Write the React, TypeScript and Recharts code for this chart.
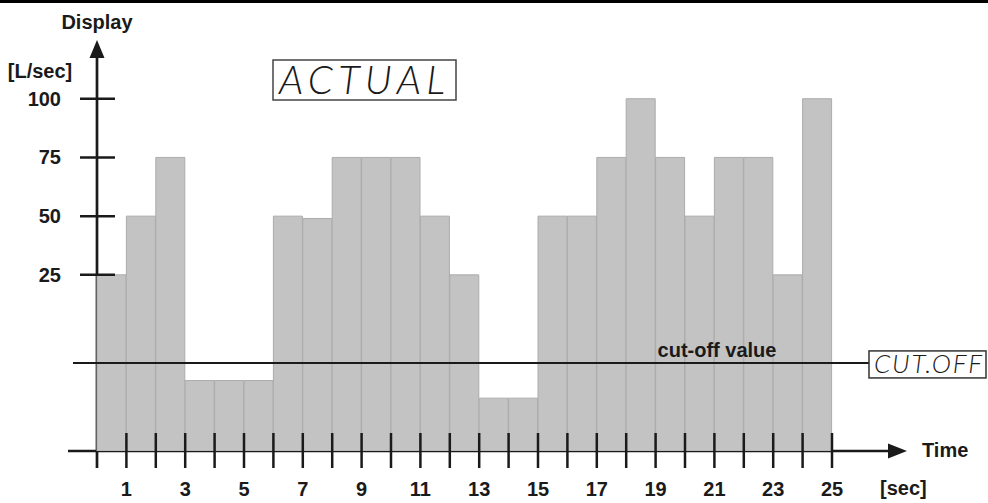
import React from "react";
import { BarChart, Bar, XAxis, YAxis, ReferenceLine, Customized } from "recharts";

// ---- data ----
const TIME_SLOTS = [1, 2, 3, 4, 5, 6, 7, 8, 9, 10, 11, 12, 13, 14, 15, 16, 17, 18, 19, 20, 21, 22, 23, 24, 25];
const FLOW_VALUES = [25, 50, 75, -20, -20, -20, 50, 49, 75, 75, 75, 50, 25, -27.5, -27.5, 50, 50, 75, 100, 75, 50, 75, 75, 25, 100];
const Y_TICKS = [25, 50, 75, 100];
const X_LABELED = [1, 3, 5, 7, 9, 11, 13, 15, 17, 19, 21, 23, 25];
const Y_DOMAIN: [number, number] = [-50, 125];
const CUTOFF_VALUE = -12.5;
const TITLE = "ACTUAL";
const CUTOFF_TAG = "CUT.OFF";
const CUTOFF_LABEL = "cut-off value";

const data = TIME_SLOTS.map((t, i) => ({ t, v: FLOW_VALUES[i] }));

// ---- layout ----
const W = 988;
const H = 503;
const M = { top: 40, right: 156, bottom: 22, left: 37 };
const YW = 60;
const XH = 30;
const PL = M.left + YW; // 97
const PB = H - M.bottom - XH; // 451
const BAND = (W - PL - M.right) / TIME_SLOTS.length;
const FONT = "'Liberation Sans', Arial, sans-serif";
const SEG_FONT = "Lato, 'Open Sans', 'DejaVu Sans', sans-serif";
const FS = 20;
const INK = "#1a1a1a";

// tick at the right edge of each one-second slot
const XTick = (props: any) => {
  const { x, payload } = props;
  const tx = x + BAND / 2;
  const lab = X_LABELED.includes(payload.value);
  return (
    <g>
      <line x1={tx} x2={tx} y1={PB - 18} y2={PB + 17} stroke={INK} strokeWidth={2.5} />
      {lab && (
        <text x={tx} y={PB + 38} dy="0.35em" textAnchor="middle" fontFamily={FONT} fontWeight="bold" fontSize={FS} fill={INK}>
          {payload.value}
        </text>
      )}
    </g>
  );
};

const YTick = (props: any) => {
  const { y, payload } = props;
  return (
    <g>
      <line x1={PL - 17} x2={PL + 18} y1={y} y2={y} stroke={INK} strokeWidth={2.5} />
      <text x={PL - 36} y={y} dy="0.35em" textAnchor="end" fontFamily={FONT} fontWeight="bold" fontSize={FS} fill={INK}>
        {payload.value}
      </text>
    </g>
  );
};

const CutoffShape = (props: any) => {
  const { x1, x2, y1 } = props;
  const y = y1;
  return (
    <g>
      <line x1={x1 - 24} x2={x2 + 37} y1={y} y2={y} stroke={INK} strokeWidth={2} />
      <text x={x2 - 115} y={y - 13} dy="0.35em" textAnchor="middle" fontFamily={FONT} fontWeight="bold" fontSize={FS} fill={INK}>
        {CUTOFF_LABEL}
      </text>
      <rect x={x2 + 37} y={y - 12} width={117} height={27} fill="#fff" stroke="#333" strokeWidth={1.5} />
      <text x={x2 + 42} y={y + 10} fontFamily={SEG_FONT} fontWeight={300} fontStyle="italic" fontSize={26}
        fill={INK} textLength={108} lengthAdjust="spacing">
        {CUTOFF_TAG}
      </text>
    </g>
  );
};

const Decor = () => (
  <g>
    <rect x={0} y={0} width={W} height={3} fill="#000" />
    {/* y axis with arrow */}
    <line x1={PL} x2={PL} y1={56} y2={468} stroke={INK} strokeWidth={2.7} />
    <polygon points={`${PL},40 ${PL - 7.5},58 ${PL + 7.5},58`} fill={INK} />
    {/* x axis with arrow */}
    <line x1={68} x2={890} y1={PB} y2={PB} stroke={INK} strokeWidth={2.7} />
    <polygon points={`907,${PB} 888,${PB - 7.5} 888,${PB + 7.5}`} fill={INK} />
    <text x={97} y={29} textAnchor="middle" fontFamily={FONT} fontWeight="bold" fontSize={FS} fill={INK}>Display</text>
    <text x={40} y={78} textAnchor="middle" fontFamily={FONT} fontWeight="bold" fontSize={FS} fill={INK}>[L/sec]</text>
    <text x={922} y={457} fontFamily={FONT} fontWeight="bold" fontSize={FS} fill={INK}>Time</text>
    <text x={880} y={495} fontFamily={FONT} fontWeight="bold" fontSize={FS} fill={INK}>[sec]</text>
    {/* ACTUAL display */}
    <rect x={273} y={60} width={183} height={40} fill="#fff" stroke="#444" strokeWidth={1.5} />
    <text x={279} y={94} fontFamily={SEG_FONT} fontWeight={300} fontStyle="italic" fontSize={40}
      fill={INK} textLength={166} lengthAdjust="spacing">
      {TITLE}
    </text>
  </g>
);

export default function App() {
  return (
    <div style={{ position: "absolute", left: 0, top: 0, width: W, height: H, background: "#fff" }}>
      <BarChart width={W} height={H} data={data} margin={M} barCategoryGap={0} barGap={0}>
        <XAxis xAxisId="cat" dataKey="t" height={XH} axisLine={false} tickLine={false} tick={<XTick />} interval={0} />
        <YAxis domain={Y_DOMAIN} ticks={Y_TICKS} allowDataOverflow width={YW} axisLine={false}
          tickLine={false} tick={<YTick />} interval={0} />
        <Bar xAxisId="cat" dataKey={(d: any) => [Y_DOMAIN[0], d.v]} fill="#c3c3c3" stroke="#acacac" strokeWidth={1}
          isAnimationActive={false} />
        <ReferenceLine xAxisId="cat" y={CUTOFF_VALUE} shape={(p: any) => <CutoffShape {...p} />} />
        <Customized component={Decor} />
      </BarChart>
    </div>
  );
}
